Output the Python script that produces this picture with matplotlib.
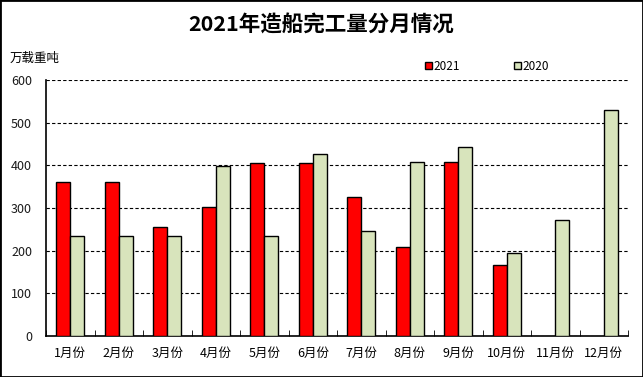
import numpy as np
import matplotlib.pyplot as plt
from matplotlib.patches import Rectangle

plt.rcParams['font.family'] = ['Noto Sans CJK SC', 'DejaVu Sans']

months = ['1月份', '2月份', '3月份', '4月份', '5月份', '6月份',
          '7月份', '8月份', '9月份', '10月份', '11月份', '12月份']
v2021 = [360, 360, 255, 302, 405, 405, 326, 208, 407, 166, np.nan, np.nan]
v2020 = [234, 234, 234, 398, 234, 426, 245, 407, 444, 194, 273, 529]

fig = plt.figure(figsize=(6.43, 3.77), dpi=100)
ax = fig.add_axes([46/643, 41/377, 582/643, 256/377])

x = np.arange(len(months))
w = 0.29
b1 = ax.bar(x - w/2, v2021, w, color='#FF0000', edgecolor='black', linewidth=1, label='2021', zorder=3)
b2 = ax.bar(x + w/2, v2020, w, color='#D8E4BC', edgecolor='black', linewidth=1, label='2020', zorder=3)

ax.set_xlim(-0.5, 11.5)
ax.set_ylim(0, 600)
ax.set_yticks(range(0, 601, 100))
ax.set_xticks(x)
ax.set_xticklabels(months, fontsize=9)
ax.set_xticks(np.arange(-0.5, 12, 1), minor=True)
ax.tick_params(axis='x', which='major', length=0, pad=8)
ax.tick_params(axis='x', which='minor', direction='in', length=4, color='black')
ax.tick_params(axis='y', length=0, pad=10, labelsize=9, labelcolor='#1a1a1a')
ax.grid(axis='y', linestyle=(0, (3, 2)), color='black', linewidth=0.8, zorder=0)
for s in ['top', 'right']:
    ax.spines[s].set_visible(False)
for s in ['left', 'bottom']:
    ax.spines[s].set_color('black')
    ax.spines[s].set_linewidth(1.2)

fig.text(0.5, 1 - 25/377, '2021年造船完工量分月情况', ha='center', va='center',
         fontsize=15.5, fontweight='bold')
fig.text(10/643, 1 - 58/377, '万载重吨', ha='left', va='center', fontsize=9)

fig.legend(handles=[b1, b2], loc='center left', bbox_to_anchor=(425/643, 1 - 66/377),
           ncol=2, frameon=False, fontsize=8.5, handlelength=0.6, handleheight=0.6,
           handletextpad=0.1, columnspacing=4.6, borderaxespad=0, borderpad=0)

fig.patches.append(Rectangle((0, 0), 1, 1, transform=fig.transFigure, fill=False,
                             edgecolor='black', linewidth=2))

fig.savefig('out.png', dpi=100)
